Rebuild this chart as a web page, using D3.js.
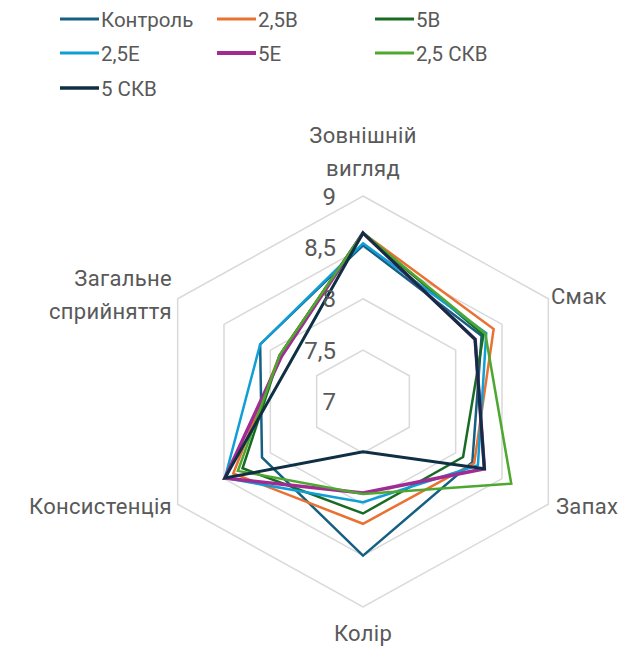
<!DOCTYPE html>
<html>
<head>
<meta charset="utf-8">
<script src="https://cdn.jsdelivr.net/npm/d3@7"></script>
<style>
  body { margin: 0; background: #fff; }
  svg { display: block; font-family: Roboto, "Open Sans", sans-serif; }
</style>
</head>
<body>
<svg width="627" height="648"></svg>
<script>
// data
// ----------------------------------
var axes = ['Зовнішній вигляд', 'Смак', 'Запах', 'Колір', 'Консистенція', 'Загальне сприйняття'];
var seriesNames = ['Контроль', '2,5В', '5В', '2,5Е', '5Е', '2,5 СКВ', '5 СКВ'];
var kontrol = [8.52, 8.28, 8.18, 8.50, 8.09, 8.11];
var v25B    = [8.64, 8.41, 8.20, 8.19, 8.40, 7.90];
var v5B     = [8.64, 8.30, 8.08, 8.09, 8.30, 7.90];
var v25E    = [8.54, 8.33, 8.24, 7.98, 8.49, 8.11];
var v5E     = [8.64, 8.21, 8.31, 7.89, 8.49, 7.88];
var v25SKV  = [8.64, 8.32, 8.60, 7.90, 8.35, 7.90];
var v5SKV   = [8.64, 8.21, 8.31, 7.49, 8.49, 7.78];
var ringTicks = [7, 7.5, 8, 8.5, 9];
var ringLabels = ['7', '7,5', '8', '8,5', '9'];

var seriesValues = [kontrol, v25B, v5B, v25E, v5E, v25SKV, v5SKV];
var colors = ['#156082', '#e97132', '#196b24', '#0f9ed5', '#a02b93', '#4ea72e', '#0e2f44'];
var widths = [2.5, 2.5, 2.5, 2.5, 3.5, 2.5, 3];

// 0. setup
// ----------------------------------
var svg = d3.select('svg');
var cx = 363, cy = 401.5;
var rx = d3.scaleLinear().domain([7, 9]).range([0, 214]);
var ry = d3.scaleLinear().domain([7, 9]).range([0, 205.5]);
var angle = d3.scaleLinear().domain([0, axes.length]).range([-Math.PI / 2, 1.5 * Math.PI]);

function pt(v, i) {
    var a = angle(i);
    return [cx + Math.cos(a) * rx(v), cy + Math.sin(a) * ry(v)];
}

var line = d3.line().curve(d3.curveLinearClosed);

// 1. grid rings
// ----------------------------------
var grid = svg.append('g').classed('grid', true);
grid.selectAll('path')
    .data(ringTicks.filter(t => t > 7))
    .enter().append('path')
    .attr('d', t => line(axes.map((a, i) => pt(t, i))))
    .style('fill', 'none')
    .style('stroke', '#d9d9d9')
    .style('stroke-width', 1.5);

// 2. series
// ----------------------------------
var series = svg.append('g').classed('series', true);
series.selectAll('path')
    .data(seriesValues)
    .enter().append('path')
    .attr('d', d => line(d.map((v, i) => pt(v, i))))
    .style('fill', 'none')
    .style('stroke', (d, i) => colors[i])
    .style('stroke-width', (d, i) => widths[i])
    .style('stroke-linejoin', 'miter');

// 3. ring labels
// ----------------------------------
svg.append('g').selectAll('text')
    .data(ringTicks)
    .enter().append('text')
    .attr('x', 336)
    .attr('y', t => cy - ry(t) + 8.5)
    .attr('text-anchor', 'end')
    .style('font-size', '24px')
    .style('fill', '#595959')
    .text((t, i) => ringLabels[i]);

// 4. category labels
// ----------------------------------
var catPos = [
    { x: 363, y: 143, anchor: 'middle', lines: ['Зовнішній', 'вигляд'] },
    { x: 551, y: 304, anchor: 'start', lines: ['Смак'] },
    { x: 556, y: 514, anchor: 'start', lines: ['Запах'] },
    { x: 363, y: 641, anchor: 'middle', lines: ['Колір'] },
    { x: 172, y: 514, anchor: 'end', lines: ['Консистенція'] },
    { x: 172, y: 286, anchor: 'end', lines: ['Загальне', 'сприйняття'] }
];
var cats = svg.append('g').selectAll('text')
    .data(axes)
    .enter().append('text')
    .attr('x', (d, i) => catPos[i].x)
    .attr('y', (d, i) => catPos[i].y)
    .attr('text-anchor', (d, i) => catPos[i].anchor)
    .style('font-size', '22px')
    .style('letter-spacing', '0.3px')
    .style('fill', '#595959');
cats.selectAll('tspan')
    .data((d, i) => catPos[i].lines.map(l => ({ l: l, x: catPos[i].x })))
    .enter().append('tspan')
    .attr('x', d => d.x)
    .attr('dy', (d, j) => j === 0 ? 0 : 33)
    .text(d => d.l);

// 5. legend
// ----------------------------------
var legend = svg.append('g').classed('legend', true);
var colX = [60, 217, 375];
var rowY = [19, 53, 88];
var items = legend.selectAll('g')
    .data(seriesNames)
    .enter().append('g')
    .attr('transform', (d, i) => 'translate(' + colX[i % 3] + ',' + rowY[Math.floor(i / 3)] + ')');
items.append('line')
    .attr('x1', 0).attr('x2', 39)
    .style('stroke', (d, i) => colors[i])
    .style('stroke-width', (d, i) => widths[i] + 0.5);
items.append('text')
    .attr('x', 41)
    .attr('y', 7.5)
    .style('font-size', '20.5px')
    .style('fill', '#595959')
    .text(d => d);
</script>
</body>
</html>
